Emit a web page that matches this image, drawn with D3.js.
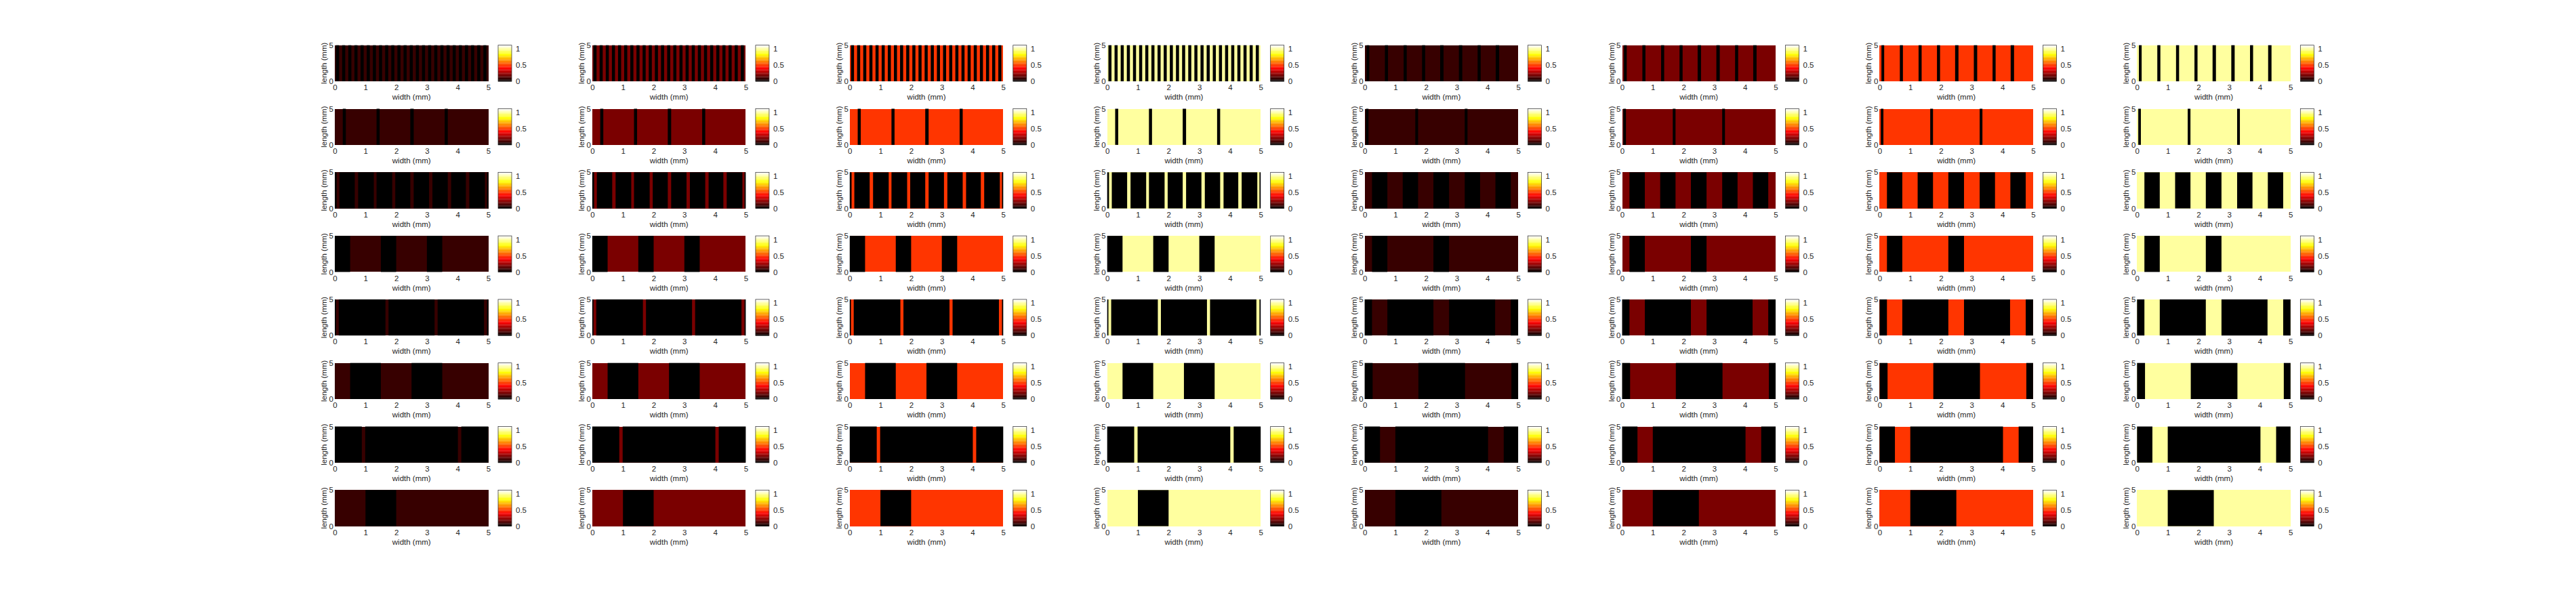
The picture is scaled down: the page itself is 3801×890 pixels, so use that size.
<!DOCTYPE html>
<html><head><meta charset="utf-8">
<script src="https://cdn.jsdelivr.net/npm/d3@7"></script>
<style>
body{margin:0;background:#fff;}
text{font-family:"Liberation Sans",Arial,Helvetica,sans-serif;fill:#262626;}
</style>
</head><body>
<svg id="chart" width="3801" height="890"></svg>
<script>
// ---- data ----
const xTicks = [0, 1, 2, 3, 4, 5];
const yTicks = [0, 5];
const cbTicks = [0, 0.5, 1];
const cbTickLabels = ["0", "0.5", "1"];
const cbMax = 1.11;
const xDomain = [0, 5];
const yDomain = [0, 5];
// intensity of each column (columns 1-4 use pattern set A, 5-8 use set B)
const columnLevels = [0.1, 0.2, 0.5, 1, 0.1, 0.2, 0.5, 1];
const columnGroup = ["A", "A", "A", "A", "B", "B", "B", "B"];
// zero-valued (black) intervals along width (mm) for each row
const patternA = [
  [[0.04,0.14],[0.24,0.34],[0.44,0.54],[0.64,0.74],[0.84,0.94],[1.04,1.14],[1.24,1.34],[1.44,1.54],[1.64,1.74],[1.84,1.94],
   [2.04,2.14],[2.24,2.34],[2.44,2.54],[2.64,2.74],[2.84,2.94],[3.04,3.14],[3.24,3.34],[3.44,3.54],[3.64,3.74],[3.84,3.94],
   [4.04,4.14],[4.24,4.34],[4.44,4.54],[4.64,4.74],[4.84,4.94]],
  [[0.26,0.36],[1.36,1.46],[2.46,2.57],[3.58,3.68]],
  [[0,0.06],[0.15,0.65],[0.76,1.27],[1.36,1.87],[1.97,2.46],[2.57,3.07],[3.18,3.68],[3.79,4.27],[4.38,4.89],[4.96,5]],
  [[0,0.5],[1.5,2.0],[3.0,3.5]],
  [[0,0.04],[0.13,1.65],[1.75,3.25],[3.35,4.86],[4.96,5]],
  [[0.5,1.5],[2.5,3.5]],
  [[0,0.88],[0.99,4.01],[4.12,5]],
  [[1.0,2.0]]
];
const patternB = [
  [[0.06,0.15],[0.66,0.76],[1.27,1.37],[1.87,1.97],[2.46,2.57],[3.07,3.18],[3.68,3.78],[4.27,4.38]],
  [[0.04,0.125],[1.65,1.74],[3.26,3.35]],
  [[0.24,0.74],[1.24,1.74],[2.24,2.75],[3.26,3.76],[4.26,4.76]],
  [[0.24,0.74],[2.24,2.75]],
  [[0,0.24],[0.74,2.24],[2.75,4.25],[4.76,5]],
  [[0,0.26],[1.75,3.27],[4.78,5]],
  [[0,0.5],[1.0,4.02],[4.53,5]],
  [[1.0,2.5]]
];
const xLabel = "width (mm)";
const yLabel = "length (mm)";

// ---- layout ----
const nRows = 8, nCols = 8;
const left0 = 494, colStep = 379.9;
const top0 = 66.7, rowStep = 93.8;
const pw = 226.5, ph = 53.3;
const cbOff = 241, cbW = 20;

// "hot" colormap, 64 entries (lowest entry black)
const hot = d3.range(0, 64).map(i => {
  const r = Math.min(1, i / 23), g = Math.max(0, Math.min(1, (i - 23) / 24)), b = Math.max(0, Math.min(1, (i - 47) / 16));
  return d3.rgb(r * 255, g * 255, b * 255).formatHex();
});
const color = d3.scaleQuantize().domain([0, cbMax]).range(hot);

const svg = d3.select("#chart");
const x = d3.scaleLinear().domain(xDomain).range([0, pw]);
const y = d3.scaleLinear().domain(yDomain).range([ph, 0]);
const cy = d3.scaleLinear().domain([0, cbMax]).range([ph, 0]);
const fs = 11.5;

for (let r = 0; r < nRows; r++) {
  for (let c = 0; c < nCols; c++) {
    const g = svg.append("g").attr("transform", `translate(${left0 + c * colStep},${top0 + r * rowStep})`);
    const v = columnLevels[c];
    const pat = (columnGroup[c] === "A" ? patternA : patternB)[r];
    g.append("rect").attr("x", x(0)).attr("y", y(5)).attr("width", x(5) - x(0)).attr("height", y(0) - y(5))
      .attr("fill", color(v)).attr("shape-rendering", "crispEdges");
    g.selectAll("rect.z").data(pat).enter().append("rect").attr("class", "z")
      .attr("x", d => x(d[0])).attr("width", d => x(d[1]) - x(d[0]))
      .attr("y", y(5)).attr("height", y(0) - y(5)).attr("fill", color(0));
    // x axis labels
    const xa = g.append("g").attr("transform", `translate(0,${ph})`)
      .call(d3.axisBottom(x).tickValues(xTicks).tickSize(0).tickPadding(5).tickFormat(d3.format("d")));
    xa.select(".domain").remove();
    xa.selectAll("text").attr("font-size", fs).attr("fill", "#262626").style("font-family", "'Liberation Sans',Arial,sans-serif");
    const ya = g.append("g").call(d3.axisLeft(y).tickValues(yTicks).tickSize(0).tickPadding(2).tickFormat(d3.format("d")));
    ya.select(".domain").remove();
    ya.selectAll("text").attr("font-size", fs).attr("fill", "#262626").style("font-family", "'Liberation Sans',Arial,sans-serif");
    g.append("text").attr("x", pw / 2).attr("y", ph + 27.3).attr("text-anchor", "middle").attr("font-size", fs).text(xLabel);
    g.append("text").attr("transform", `translate(-12,${ph / 2}) rotate(-90)`).attr("text-anchor", "middle").attr("font-size", fs).text(yLabel);
    // colorbar
    const cb = g.append("g").attr("transform", `translate(${cbOff},0)`);
    cb.selectAll("rect.cb").data(hot).enter().append("rect").attr("class", "cb")
      .attr("x", 0).attr("width", cbW)
      .attr("y", (d, i) => cy((i + 1) * cbMax / 64))
      .attr("height", (d, i) => cy(i * cbMax / 64) - cy((i + 1) * cbMax / 64) + 0.3)
      .attr("fill", d => d);
    cb.append("rect").attr("x", 0).attr("y", 0).attr("width", cbW).attr("height", ph)
      .attr("fill", "none").attr("stroke", "#262626").attr("stroke-width", 0.7);
    const ca = cb.append("g").attr("transform", `translate(${cbW},0)`)
      .call(d3.axisRight(cy).tickValues(cbTicks).tickSize(0).tickPadding(6).tickFormat((d, i) => cbTickLabels[i]));
    ca.select(".domain").remove();
    ca.selectAll("text").attr("font-size", fs).attr("fill", "#262626").style("font-family", "'Liberation Sans',Arial,sans-serif");
  }
}
</script>
</body></html>
